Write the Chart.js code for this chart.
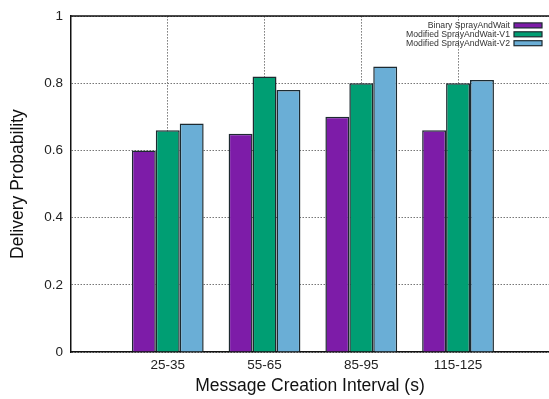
<!DOCTYPE html>
<html>
<head>
<meta charset="utf-8">
<script src="https://cdn.jsdelivr.net/npm/chart.js@4/dist/chart.umd.min.js"></script>
<style>
  body { margin: 0; background: #fff; }
  canvas { display: block; }
</style>
</head>
<body>
<canvas id="bar-chart" width="549" height="399"></canvas>
<script>
var categories = ["25-35", "55-65", "85-95", "115-125"];
var seriesNames = ["Binary SprayAndWait", "Modified SprayAndWait-V1", "Modified SprayAndWait-V2"];
var binaryValues = [0.60, 0.65, 0.70, 0.66];
var modifiedV1Values = [0.66, 0.82, 0.80, 0.80];
var modifiedV2Values = [0.68, 0.78, 0.85, 0.81];
var yTicks = [0, 0.2, 0.4, 0.6, 0.8, 1];

var fillColors = ["#7d1ca8", "#009e73", "#6aaed6"];
var edgeColor = "#1d2a30";
var gridDash = [1.5, 1.5];
var fontFamily = '"Liberation Sans", Arial, sans-serif';

function toPoints(values) {
    return values.map(function (v, i) {
        return { x: i, y: v };
    });
}

// gnuplot style key: text right aligned, sample box on the right
var keyPlugin = {
    id: 'gnuKey',
    afterDatasetsDraw: function (chart) {
        var ctx = chart.ctx;
        var area = chart.chartArea;
        ctx.save();
        ctx.font = '8.7px ' + fontFamily;
        ctx.textAlign = 'right';
        ctx.textBaseline = 'middle';
        chart.data.datasets.forEach(function (ds, i) {
            var y = area.top + 9.3 + i * 8.9;
            var boxRight = area.right - 7;
            ctx.fillStyle = '#333';
            ctx.fillText(ds.label, boxRight - 32, y);
            ctx.fillStyle = ds.backgroundColor;
            ctx.fillRect(boxRight - 28, y - 2.5, 28, 5);
            ctx.strokeStyle = edgeColor;
            ctx.lineWidth = 1.2;
            ctx.strokeRect(boxRight - 28, y - 2.5, 28, 5);
        });
        ctx.restore();
    }
};

// top frame line
var framePlugin = {
    id: 'topFrame',
    afterDraw: function (chart) {
        var ctx = chart.ctx;
        var area = chart.chartArea;
        ctx.save();
        ctx.strokeStyle = '#111';
        ctx.lineWidth = 1.5;
        ctx.beginPath();
        ctx.moveTo(area.left, area.top);
        ctx.lineTo(area.right, area.top);
        ctx.stroke();
        ctx.restore();
    }
};

var chartdata = {
    datasets: [{
        label: seriesNames[0],
        data: toPoints(binaryValues),
        backgroundColor: fillColors[0]
    }, {
        label: seriesNames[1],
        data: toPoints(modifiedV1Values),
        backgroundColor: fillColors[1]
    }, {
        label: seriesNames[2],
        data: toPoints(modifiedV2Values),
        backgroundColor: fillColors[2]
    }]
};

chartdata.datasets.forEach(function (ds) {
    ds.borderColor = edgeColor;
    ds.borderWidth = 1.5;
    ds.categoryPercentage = 0.742;
    ds.barPercentage = 1;
});

new Chart("bar-chart", {
    type: 'bar',
    data: chartdata,
    plugins: [keyPlugin, framePlugin],
    options: {
        responsive: false,
        animation: false,
        layout: { padding: { top: 9, right: 0, left: 0, bottom: 0 } },
        plugins: {
            legend: { display: false },
            tooltip: { enabled: false }
        },
        scales: {
            x: {
                type: 'linear',
                min: -1,
                max: 3.94,
                offset: false,
                afterBuildTicks: function (scale) {
                    scale.ticks = categories.map(function (c, i) {
                        return { value: i };
                    });
                },
                afterFit: function (scale) {
                    scale.height = 47;
                },
                ticks: {
                    callback: function (v) {
                        return categories[v];
                    },
                    maxRotation: 0,
                    padding: 5,
                    color: '#222',
                    font: { family: fontFamily, size: 13.5 }
                },
                grid: {
                    offset: false,
                    drawTicks: false,
                    color: '#777',
                    lineWidth: 1
                },
                border: {
                    display: true,
                    color: '#111',
                    width: 1.5,
                    dash: gridDash
                },
                title: {
                    display: true,
                    text: 'Message Creation Interval (s)',
                    color: '#111',
                    padding: { top: 0, bottom: 2.5 },
                    font: { family: fontFamily, size: 17.5 }
                }
            },
            y: {
                min: 0,
                max: 1,
                afterBuildTicks: function (scale) {
                    scale.ticks = yTicks.map(function (v) {
                        return { value: v };
                    });
                },
                afterFit: function (scale) {
                    scale.width = 71;
                },
                ticks: {
                    callback: function (v) {
                        return String(v);
                    },
                    padding: 8,
                    color: '#222',
                    font: { family: fontFamily, size: 13.5 }
                },
                grid: {
                    drawTicks: false,
                    color: '#777',
                    lineWidth: 1
                },
                border: {
                    display: true,
                    color: '#111',
                    width: 1.5,
                    dash: gridDash
                },
                title: {
                    display: true,
                    text: 'Delivery Probability',
                    color: '#111',
                    padding: { top: 7.5, bottom: 0 },
                    font: { family: fontFamily, size: 17.5 }
                }
            }
        }
    }
});
</script>
</body>
</html>
